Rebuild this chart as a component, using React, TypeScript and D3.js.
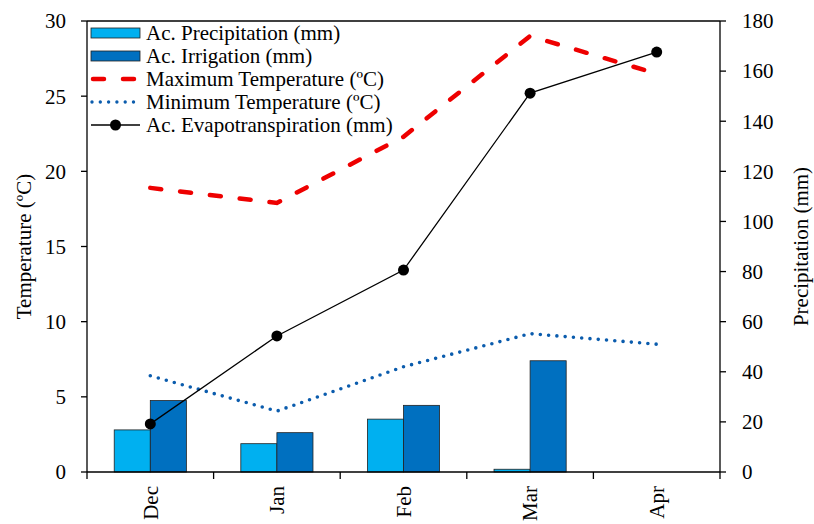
import React from "react";
import * as d3 from "d3";

const months = ["Dec", "Jan", "Feb", "Mar", "Apr"];
const precipitation = [16.8, 11.3, 21.1, 1.1, null];
const irrigation = [28.5, 15.7, 26.6, 44.4, null];
const evapotranspiration = [19.2, 54.3, 80.6, 151.2, 167.6];
const maxTemp = [18.9, 17.9, 22.3, 29.0, 26.5];
const minTemp = [6.4, 4.05, 7.0, 9.2, 8.5];
const tempTicks = [0, 5, 10, 15, 20, 25, 30];
const precTicks = [0, 20, 40, 60, 80, 100, 120, 140, 160, 180];

const legendItems = [
  { label: "Ac. Precipitation (mm)", kind: "bar1" },
  { label: "Ac. Irrigation (mm)", kind: "bar2" },
  { label: "Maximum Temperature (ºC)", kind: "dash" },
  { label: "Minimum Temperature (ºC)", kind: "dot" },
  { label: "Ac. Evapotranspiration (mm)", kind: "et" },
];

const W = 814, H = 524;
const L = 87, R = 720, T = 21, B = 472;
const FONT = "Liberation Serif";
const C_PREC = "#00b0f0";
const C_IRR = "#0070c0";
const C_MAX = "#ee0000";
const C_MIN = "#0b5cad";

export default function App() {
  const x = d3.scaleBand().domain(months).range([L, R]).padding(0);
  const yT = d3.scaleLinear().domain([0, 30]).range([B, T]);
  const yP = d3.scaleLinear().domain([0, 180]).range([B, T]);
  const bw = x.bandwidth() * 0.285;
  const cx = (m: string) => (x(m) as number) + x.bandwidth() / 2;

  const lineT = d3.line<number>().x((_, i) => cx(months[i])).y((d) => yT(d));
  const lineP = d3.line<number>().x((_, i) => cx(months[i])).y((d) => yP(d));

  const fs = 21;
  const ts = { fontFamily: FONT, fontSize: fs };
  return (
    <svg width={W} height={H} style={{ position: "absolute", left: 0, top: 0, background: "#fff" }}>
      {/* bars */}
      {months.map((m, i) =>
        precipitation[i] != null ? (
          <rect key={"p" + m} x={cx(m) - bw} y={yP(precipitation[i] as number)} width={bw}
            height={B - yP(precipitation[i] as number)} fill={C_PREC} stroke="#222" strokeWidth={0.8} />
        ) : null
      )}
      {months.map((m, i) =>
        irrigation[i] != null ? (
          <rect key={"i" + m} x={cx(m)} y={yP(irrigation[i] as number)} width={bw}
            height={B - yP(irrigation[i] as number)} fill={C_IRR} stroke="#222" strokeWidth={0.8} />
        ) : null
      )}
      {/* temperature lines */}
      <path d={lineT(maxTemp) as string} fill="none" stroke={C_MAX} strokeWidth={4.5} strokeDasharray="11 19" strokeLinecap="round" />
      <path d={lineT(minTemp) as string} fill="none" stroke={C_MIN} strokeWidth={3.6} strokeDasharray="0 8.3" strokeLinecap="round" />
      {/* ET */}
      <path d={lineP(evapotranspiration) as string} fill="none" stroke="#000" strokeWidth={1.3} />
      {evapotranspiration.map((v, i) => (
        <circle key={"e" + i} cx={cx(months[i])} cy={yP(v)} r={5.5} fill="#000" />
      ))}
      {/* axes frame */}
      <line x1={L} x2={R} y1={T} y2={T} stroke="#000" strokeWidth={1.3} />
      <line x1={L} x2={R} y1={B} y2={B} stroke="#000" strokeWidth={1.3} />
      <line x1={L} x2={L} y1={T} y2={B} stroke="#000" strokeWidth={1.3} />
      <line x1={R} x2={R} y1={T} y2={B} stroke="#000" strokeWidth={1.3} />
      {tempTicks.map((t) => (
        <g key={"lt" + t}>
          <line x1={L - 6} x2={L} y1={yT(t)} y2={yT(t)} stroke="#000" strokeWidth={1.3} />
          <text x={L - 21} y={yT(t)} dy="0.35em" textAnchor="end" style={ts}>{t}</text>
        </g>
      ))}
      {precTicks.map((t) => (
        <g key={"rt" + t}>
          <line x1={R} x2={R + 6} y1={yP(t)} y2={yP(t)} stroke="#000" strokeWidth={1.3} />
          <text x={R + 22} y={yP(t)} dy="0.35em" textAnchor="start" style={ts}>{t}</text>
        </g>
      ))}
      {months.concat(["__end"]).map((m, i) => {
        const xx = L + i * x.bandwidth();
        return <line key={"xt" + i} x1={xx} x2={xx} y1={B} y2={B + 7} stroke="#000" strokeWidth={1.3} />;
      })}
      {months.map((m) => (
        <text key={"xl" + m} transform={`translate(${cx(m)},${B + 14}) rotate(-90)`} dy="0.35em"
          textAnchor="end" style={ts}>{m}</text>
      ))}
      <text transform={`translate(24,${(T + B) / 2}) rotate(-90)`} textAnchor="middle" dy="0.35em" style={ts}>Temperature (ºC)</text>
      <text transform={`translate(801,${(T + B) / 2}) rotate(-90)`} textAnchor="middle" dy="0.35em" style={ts}>Precipitation (mm)</text>
      {/* legend */}
      {legendItems.map((it, i) => {
        const yy = 33 + i * 23;
        const x0 = 91, x1 = 140;
        let sw: React.ReactNode = null;
        if (it.kind === "bar1") sw = <rect x={x0} y={yy - 5} width={x1 - x0} height={10} fill={C_PREC} stroke="#222" strokeWidth={0.8} />;
        else if (it.kind === "bar2") sw = <rect x={x0} y={yy - 5} width={x1 - x0} height={10} fill={C_IRR} stroke="#222" strokeWidth={0.8} />;
        else if (it.kind === "dash") sw = <line x1={x0 + 2} x2={x1} y1={yy} y2={yy} stroke={C_MAX} strokeWidth={4.5} strokeDasharray="11 19" strokeLinecap="round" />;
        else if (it.kind === "dot") sw = <line x1={x0 + 1} x2={x1} y1={yy} y2={yy} stroke={C_MIN} strokeWidth={3.4} strokeDasharray="0 8.3" strokeLinecap="round" />;
        else sw = (
          <g>
            <line x1={x0} x2={x1} y1={yy} y2={yy} stroke="#000" strokeWidth={1.3} />
            <circle cx={(x0 + x1) / 2} cy={yy} r={5.5} fill="#000" />
          </g>
        );
        return (
          <g key={"lg" + i}>
            {sw}
            <text x={146} y={yy} dy="0.35em" style={ts}>{it.label}</text>
          </g>
        );
      })}
    </svg>
  );
}
